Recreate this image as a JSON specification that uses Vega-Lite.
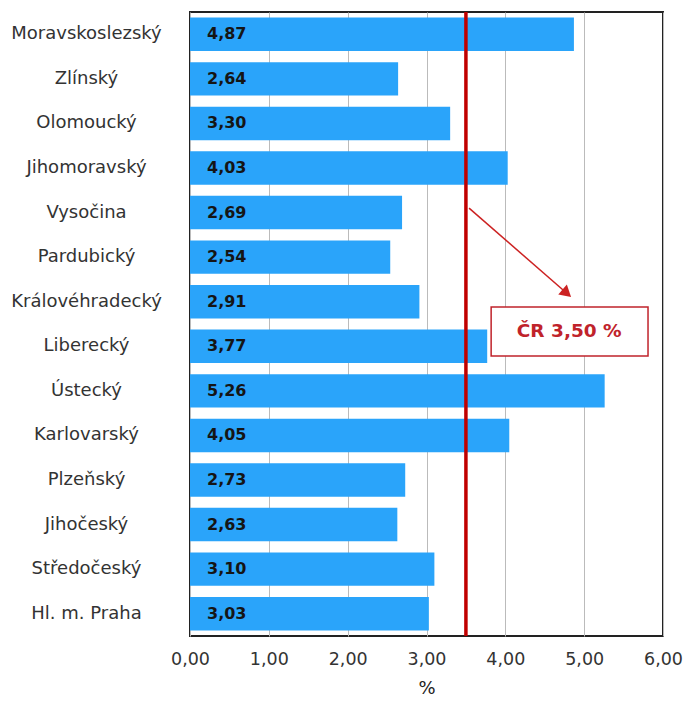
{
  "$schema": "https://vega.github.io/schema/vega-lite/v6.json",
  "autosize": {"type": "none"},
  "width": 473,
  "height": 624,
  "padding": {"left": 190, "top": 12, "right": 23, "bottom": 66},
  "config": {
    "locale": {"number": {"decimal": ",", "thousands": " ", "grouping": [3], "currency": ["", " Kč"]}},
    "view": {"stroke": "#222222", "strokeWidth": 2},
    "font": "DejaVu Sans"
  },
  "resolve": {"scale": {"y": "independent"}},
  "layer": [
    {
      "data": {"values": [
        {"kraj": "Moravskoslezský", "hodnota": 4.87},
        {"kraj": "Zlínský", "hodnota": 2.64},
        {"kraj": "Olomoucký", "hodnota": 3.30},
        {"kraj": "Jihomoravský", "hodnota": 4.03},
        {"kraj": "Vysočina", "hodnota": 2.69},
        {"kraj": "Pardubický", "hodnota": 2.54},
        {"kraj": "Královéhradecký", "hodnota": 2.91},
        {"kraj": "Liberecký", "hodnota": 3.77},
        {"kraj": "Ústecký", "hodnota": 5.26},
        {"kraj": "Karlovarský", "hodnota": 4.05},
        {"kraj": "Plzeňský", "hodnota": 2.73},
        {"kraj": "Jihočeský", "hodnota": 2.63},
        {"kraj": "Středočeský", "hodnota": 3.10},
        {"kraj": "Hl. m. Praha", "hodnota": 3.03}
      ]},
      "encoding": {
        "y": {
          "field": "kraj", "type": "nominal", "sort": null,
          "scale": {"paddingInner": 0.25, "paddingOuter": 0.125},
          "axis": {"title": null, "ticks": false, "domain": false, "labelAlign": "center", "labelPadding": 104, "labelFontSize": 18, "labelColor": "#333333", "labelFont": "DejaVu Sans"}
        }
      },
      "layer": [
        {
          "mark": {"type": "bar", "color": "#2AA4FA"},
          "encoding": {
            "x": {
              "field": "hodnota", "type": "quantitative",
              "scale": {"domain": [0, 6], "nice": false},
              "axis": {"title": "%", "titleFontSize": 18, "titleFont": "DejaVu Sans", "titleFontWeight": "normal", "titleColor": "#222222", "titlePadding": 12, "values": [0, 1, 2, 3, 4, 5, 6], "format": ".2f", "labelFontSize": 17.5, "labelFont": "DejaVu Sans", "labelColor": "#333333", "ticks": false, "domain": false, "labelPadding": 14, "gridColor": "#BBBBBB", "gridWidth": 1, "labelFlush": false}
            }
          }
        },
        {
          "mark": {"type": "text", "align": "left", "dx": 17, "fontSize": 16, "fontWeight": "bold", "color": "#151515", "font": "DejaVu Sans"},
          "encoding": {
            "x": {"datum": 0, "type": "quantitative"},
            "text": {"field": "hodnota", "type": "quantitative", "format": ".2f"}
          }
        }
      ]
    },
    {
      "data": {"values": [{"cr": 3.5}]},
      "mark": {"type": "rule", "color": "#C00000", "strokeWidth": 3.5},
      "encoding": {"x": {"field": "cr", "type": "quantitative"}}
    },
    {
      "data": {"values": [
        {"x1": 3.54, "y1": 4.40, "x2": 4.78, "y2": 6.31, "bx1": 3.82, "bx2": 5.81, "by1": 6.62, "by2": 7.72, "tx": 4.81, "ty": 7.16, "label": "ČR 3,50 %"}
      ]},
      "layer": [
        {
          "mark": {"type": "rule", "color": "#CC2222", "strokeWidth": 1.5},
          "encoding": {
            "x": {"field": "x1", "type": "quantitative"},
            "x2": {"field": "x2"},
            "y": {"field": "y1", "type": "quantitative", "scale": {"domain": [0, 14], "reverse": true, "nice": false}, "axis": null},
            "y2": {"field": "y2"}
          }
        },
        {
          "mark": {"type": "point", "shape": "triangle-right", "filled": true, "color": "#CC2222", "size": 170, "angle": 41, "opacity": 1},
          "encoding": {
            "x": {"field": "x2", "type": "quantitative"},
            "y": {"field": "y2", "type": "quantitative", "scale": {"domain": [0, 14], "reverse": true, "nice": false}, "axis": null}
          }
        },
        {
          "mark": {"type": "rect", "fill": "white", "stroke": "#C0232B", "strokeWidth": 1.5},
          "encoding": {
            "x": {"field": "bx1", "type": "quantitative"},
            "x2": {"field": "bx2"},
            "y": {"field": "by1", "type": "quantitative", "scale": {"domain": [0, 14], "reverse": true, "nice": false}, "axis": null},
            "y2": {"field": "by2"}
          }
        },
        {
          "mark": {"type": "text", "fontSize": 18.5, "fontWeight": "bold", "color": "#C0232B", "align": "center", "baseline": "middle", "font": "DejaVu Sans"},
          "encoding": {
            "x": {"field": "tx", "type": "quantitative"},
            "y": {"field": "ty", "type": "quantitative", "scale": {"domain": [0, 14], "reverse": true, "nice": false}, "axis": null},
            "text": {"field": "label"}
          }
        }
      ]
    }
  ]
}
